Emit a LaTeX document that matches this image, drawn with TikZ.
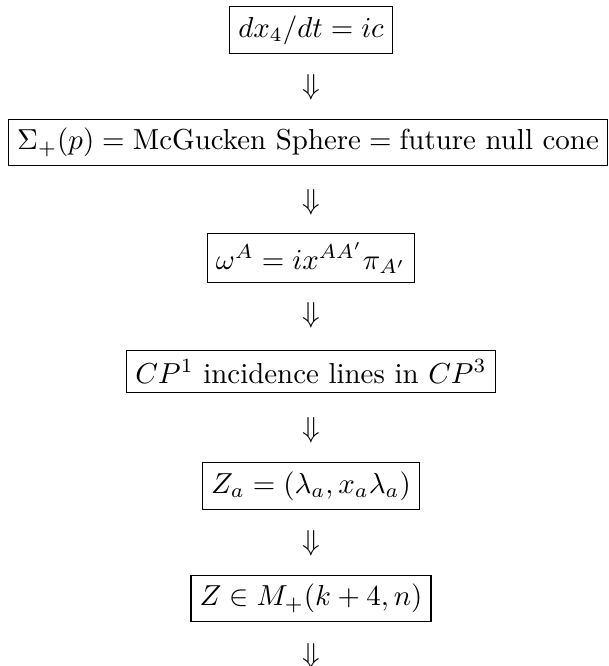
\documentclass[tikz,border=0pt]{standalone}
\begin{document}
\begin{tikzpicture}[x=0.346pt,y=-0.346pt,
  eqbox/.style={draw=black, line width=0.4pt, inner sep=3pt, anchor=center},
  darr/.style={inner sep=0pt, anchor=center}]
\useasboundingbox (0,0) rectangle (608,666);
\node[eqbox] (b1) at (311,30) {$dx_4/dt = ic$};
\node[darr] (a1) at (311,87) {$\Downarrow$};
\node[eqbox] (b2) at (308,142.5) {$\Sigma_+(p) = \mbox{McGucken Sphere} = \mbox{future null cone}$};
\node[darr] (a2) at (311,202) {$\Downarrow$};
\node[eqbox] (b3) at (311,258) {$\omega^A = i x^{AA'} \pi_{A'}$};
\node[darr] (a3) at (311,315) {$\Downarrow$};
\node[eqbox] (b4) at (311,371.5) {$CP^1$ incidence lines in $CP^3$};
\node[darr] (a4) at (311,430) {$\Downarrow$};
\node[eqbox] (b5) at (311,486) {$Z_a = (\lambda_a, x_a \lambda_a)$};
\node[darr] (a5) at (311,543) {$\Downarrow$};
\node[eqbox] (b6) at (311,598.5) {$Z \in M_+(k+4, n)$};
\node[darr] (a6) at (311,656) {$\Downarrow$};
\end{tikzpicture}
\end{document}
